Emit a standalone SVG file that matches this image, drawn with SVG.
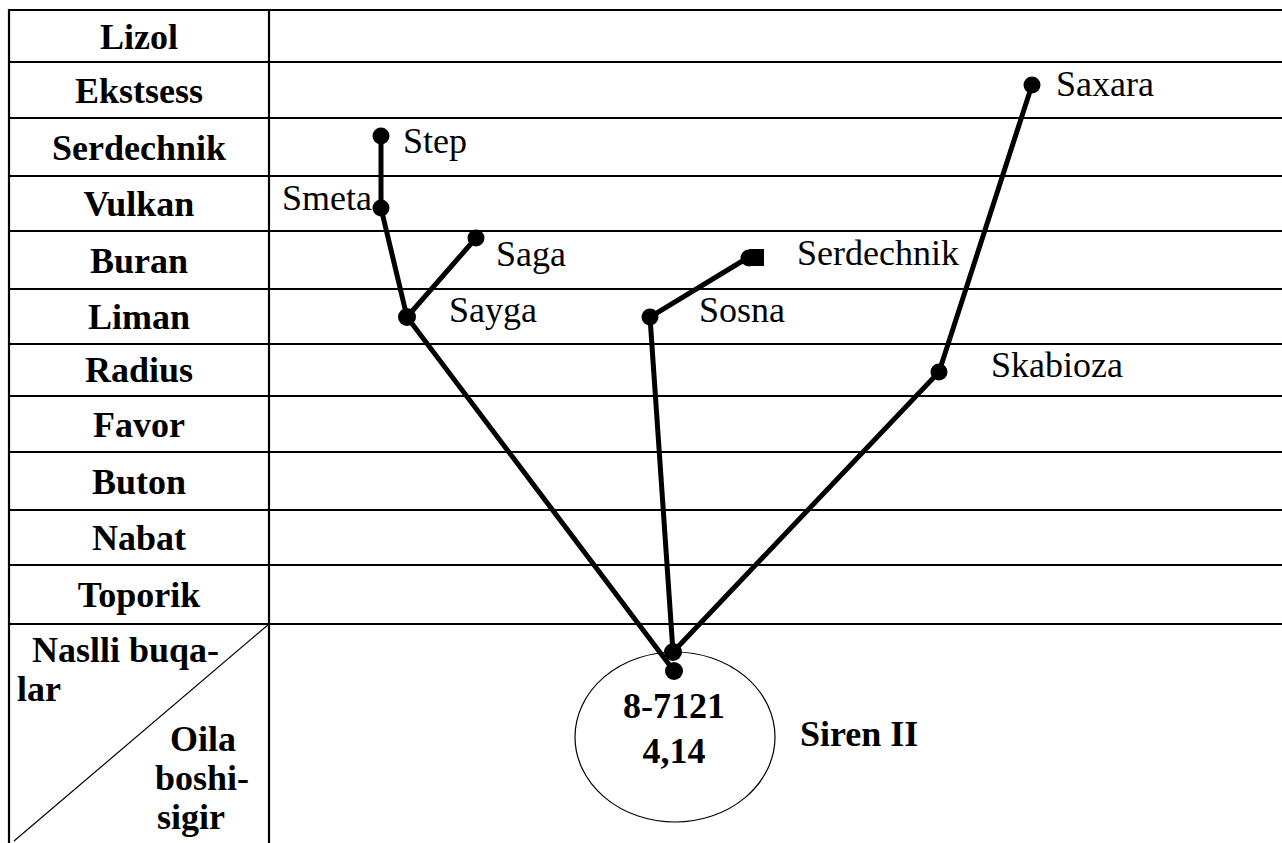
<svg xmlns="http://www.w3.org/2000/svg" width="1282" height="843" viewBox="0 0 1282 843">
  <style>
    .grid { stroke: #000; stroke-width: 2.2; fill: none; }
    .thin { stroke: #000; stroke-width: 1.2; fill: none; }
    .edge { stroke: #000; stroke-width: 5; fill: none; stroke-linecap: round; }
    .dot { fill: #000; }
    .t { font-family: "Liberation Serif", "Times New Roman", serif; font-size: 36px; fill: #000; }
    .b { font-weight: bold; }
    .row { text-anchor: middle; }
  </style>
  <rect x="0" y="0" width="1282" height="843" fill="#fff"/>

  <!-- table frame and row rules -->
  <g id="table">
    <line class="grid" x1="9" y1="9" x2="9" y2="843"/>
    <line class="grid" x1="269" y1="9" x2="269" y2="843"/>
    <line class="grid" x1="8" y1="10" x2="1282" y2="10"/>
    <line class="grid" x1="8" y1="62" x2="1282" y2="62"/>
    <line class="grid" x1="8" y1="118" x2="1282" y2="118"/>
    <line class="grid" x1="8" y1="176" x2="1282" y2="176"/>
    <line class="grid" x1="8" y1="231" x2="1282" y2="231"/>
    <line class="grid" x1="8" y1="289" x2="1282" y2="289"/>
    <line class="grid" x1="8" y1="344" x2="1282" y2="344"/>
    <line class="grid" x1="8" y1="396" x2="1282" y2="396"/>
    <line class="grid" x1="8" y1="452" x2="1282" y2="452"/>
    <line class="grid" x1="8" y1="510" x2="1282" y2="510"/>
    <line class="grid" x1="8" y1="565" x2="1282" y2="565"/>
    <line class="grid" x1="8" y1="624" x2="1282" y2="624"/>
    <line class="thin" x1="269" y1="624" x2="14" y2="841"/>
  </g>

  <!-- row headings (bulls) -->
  <g id="row-labels" class="t b row">
    <text x="139" y="49">Lizol</text>
    <text x="139" y="103">Ekstsess</text>
    <text x="139" y="160">Serdechnik</text>
    <text x="139" y="216">Vulkan</text>
    <text x="139" y="273">Buran</text>
    <text x="139" y="329">Liman</text>
    <text x="139" y="382">Radius</text>
    <text x="139" y="437">Favor</text>
    <text x="139" y="494">Buton</text>
    <text x="139" y="550">Nabat</text>
    <text x="139" y="607">Toporik</text>
  </g>

  <!-- corner cell -->
  <g id="corner" class="t b">
    <text x="32" y="662">Naslli buqa-</text>
    <text x="17" y="701">lar</text>
    <text x="170" y="751">Oila</text>
    <text x="155" y="790">boshi-</text>
    <text x="157" y="829">sigir</text>
  </g>

  <!-- root cow -->
  <g id="root">
    <ellipse class="thin" cx="675" cy="737" rx="100" ry="85" stroke-width="1.5"/>
    <text class="t b" x="674" y="718" text-anchor="middle">8-7121</text>
    <text class="t b" x="674" y="763" text-anchor="middle">4,14</text>
    <text class="t b" x="800" y="746">Siren II</text>
  </g>

  <!-- lineage connectors -->
  <g id="connectors">
    <polyline class="edge" points="381,136 381,208 407,317 674,671"/>
    <line class="edge" x1="407" y1="317" x2="476" y2="238"/>
    <polyline class="edge" points="749,257 650,317 673,652"/>
    <polyline class="edge" points="1032,85 939,372 673,652"/>
  </g>

  <!-- nodes -->
  <g id="node-root-a"><circle class="dot" cx="673" cy="652" r="9"/></g>
  <g id="node-root-b"><circle class="dot" cx="674" cy="671" r="9"/></g>

  <g id="node-step">
    <circle class="dot" cx="381" cy="136" r="8.5"/>
    <text class="t" x="403" y="153">Step</text>
  </g>
  <g id="node-smeta">
    <circle class="dot" cx="381" cy="208" r="8.5"/>
    <text class="t" x="282" y="210">Smeta</text>
  </g>
  <g id="node-saga">
    <circle class="dot" cx="476" cy="238" r="8.5"/>
    <text class="t" x="496" y="266">Saga</text>
  </g>
  <g id="node-sayga">
    <circle class="dot" cx="407" cy="317" r="9"/>
    <text class="t" x="449" y="322">Sayga</text>
  </g>
  <g id="node-sosna">
    <circle class="dot" cx="650" cy="317" r="8.5"/>
    <text class="t" x="699" y="322">Sosna</text>
  </g>
  <g id="node-serdechnik">
    <circle class="dot" cx="749" cy="258" r="8.5"/>
    <rect class="dot" x="749" y="249" width="15" height="17"/>
    <text class="t" x="797" y="265">Serdechnik</text>
  </g>
  <g id="node-saxara">
    <circle class="dot" cx="1032" cy="85" r="8.5"/>
    <text class="t" x="1056" y="96">Saxara</text>
  </g>
  <g id="node-skabioza">
    <circle class="dot" cx="939" cy="372" r="8.5"/>
    <text class="t" x="991" y="377">Skabioza</text>
  </g>
</svg>
